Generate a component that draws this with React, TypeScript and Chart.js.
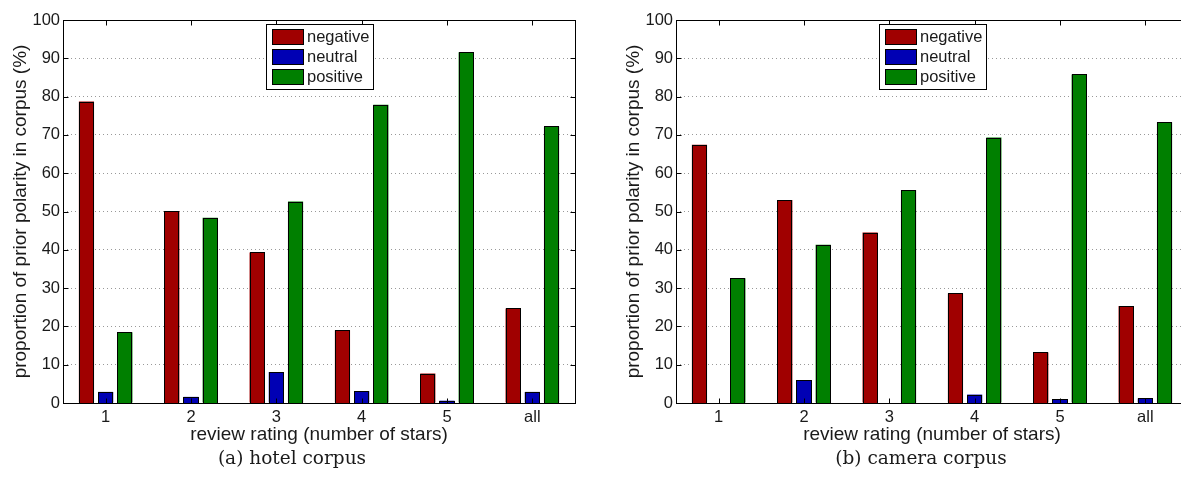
import React, { useEffect, useRef } from 'react';
import { Chart, registerables } from 'chart.js';

Chart.register(...registerables);

const CATEGORIES = ['1', '2', '3', '4', '5', 'all'];
const SERIES_LABELS = ['negative', 'neutral', 'positive'];
const SERIES_COLORS = ['#a00000', '#0000b4', '#007f00'];

const HOTEL_NEGATIVE = [78.7, 50.1, 39.3, 19.0, 7.7, 24.7];
const HOTEL_NEUTRAL = [2.9, 1.6, 8.1, 3.1, 0.6, 2.9];
const HOTEL_POSITIVE = [18.5, 48.4, 52.6, 77.9, 91.6, 72.2];

const CAMERA_NEGATIVE = [67.4, 53.0, 44.5, 28.6, 13.2, 25.3];
const CAMERA_NEUTRAL = [0, 5.9, 0, 2.2, 1.0, 1.2];
const CAMERA_POSITIVE = [32.6, 41.3, 55.6, 69.3, 85.8, 73.3];

const Y_MIN = 0;
const Y_MAX = 100;
const Y_STEP = 10;

const X_TITLE = 'review rating (number of stars)';
const Y_TITLE = 'proportion of prior polarity in corpus (%)';
const CAPTIONS = ['(a) hotel corpus', '(b) camera corpus'];

const SANS = '"Liberation Sans", Arial, Helvetica, sans-serif';
const TEXT_COLOR = '#1a1a1a';

const matlabPlugin = {
  id: 'matlabFrame',
  afterDatasetsDraw(chart: any) {
    const { ctx } = chart;
    ctx.save();
    ctx.strokeStyle = '#000';
    ctx.lineWidth = 1;
    chart.data.datasets.forEach((ds: any, di: number) => {
      const meta = chart.getDatasetMeta(di);
      meta.data.forEach((bar: any) => {
        const p = bar.getProps(['x', 'y', 'base', 'width'], true);
        const l = Math.round(p.x - p.width / 2);
        const r = Math.round(p.x + p.width / 2);
        const t = Math.round(p.y);
        const b = Math.round(p.base);
        ctx.fillStyle = ds.backgroundColor;
        ctx.fillRect(l, t, r - l, b - t);
        ctx.strokeRect(l + 0.5, t + 0.5, r - l - 1, b - t);
      });
    });
    ctx.restore();
  },
  afterDraw(chart: any) {
    const { ctx, chartArea: a, scales } = chart;
    const xs = scales.x;
    const ys = scales.y;
    ctx.save();
    ctx.strokeStyle = '#000';
    ctx.lineWidth = 1;
    const L = Math.round(a.left) + 0.5;
    const R = Math.round(a.right) + 0.5;
    const T = Math.round(a.top) + 0.5;
    const B = Math.round(a.bottom) + 0.5;
    ctx.strokeRect(L, T, R - L, B - T);
    const TL = 5;
    ctx.beginPath();
    ys.ticks.forEach((_t: any, i: number) => {
      const py = Math.round(ys.getPixelForTick(i)) + 0.5;
      ctx.moveTo(L, py);
      ctx.lineTo(L + TL, py);
      ctx.moveTo(R, py);
      ctx.lineTo(R - TL, py);
    });
    xs.ticks.forEach((_t: any, i: number) => {
      const px = Math.round(xs.getPixelForTick(i)) + 0.5;
      ctx.moveTo(px, B);
      ctx.lineTo(px, B - TL);
      ctx.moveTo(px, T);
      ctx.lineTo(px, T + TL);
    });
    ctx.stroke();

    // legend box (MATLAB "North" location)
    const bw = 107;
    const bh = 65;
    const bx = Math.round((a.left + a.right) / 2 - bw / 2);
    const by = Math.round(a.top + 4);
    ctx.fillStyle = '#fff';
    ctx.fillRect(bx, by, bw, bh);
    ctx.strokeRect(bx + 0.5, by + 0.5, bw, bh);
    ctx.font = '16.5px ' + SANS;
    ctx.textBaseline = 'middle';
    ctx.textAlign = 'left';
    chart.data.datasets.forEach((ds: any, i: number) => {
      const ry = by + 5 + i * 20;
      ctx.fillStyle = ds.backgroundColor;
      ctx.fillRect(bx + 6, ry, 31, 15);
      ctx.strokeRect(bx + 6.5, ry + 0.5, 31, 15);
      ctx.fillStyle = TEXT_COLOR;
      ctx.fillText(ds.label, bx + 41, ry + 8.5);
    });
    ctx.restore();
  },
};

function BarPanel({ series }: { series: number[][] }) {
  const ref = useRef<HTMLCanvasElement | null>(null);
  useEffect(() => {
    if (!ref.current) return;
    const chart = new Chart(ref.current, {
      type: 'bar',
      data: {
        labels: CATEGORIES,
        datasets: series.map((vals, i) => ({
          label: SERIES_LABELS[i],
          data: vals,
          backgroundColor: SERIES_COLORS[i],
          borderWidth: 0,
          categoryPercentage: 0.675,
          barPercentage: 0.79,
        })),
      },
      options: {
        animation: false,
        responsive: false,
        devicePixelRatio: 1,
        events: [],
        layout: { padding: { left: 0, right: 25, top: 20, bottom: 31 } },
        plugins: { legend: { display: false }, tooltip: { enabled: false } },
        scales: {
          x: {
            type: 'category',
            offset: true,
            grid: { display: false, drawTicks: false },
            border: { display: false },
            ticks: { font: { family: SANS, size: 16.5 }, color: TEXT_COLOR, padding: 5, maxRotation: 0 },
            title: {
              display: true,
              text: X_TITLE,
              font: { family: SANS, size: 19 },
              color: TEXT_COLOR,
              padding: { top: 0, bottom: 0 },
            },
            afterFit: (s: any) => {
              s.height = 43;
            },
          },
          y: {
            min: Y_MIN,
            max: Y_MAX,
            ticks: { stepSize: Y_STEP, font: { family: SANS, size: 16.5 }, color: TEXT_COLOR, padding: 3 },
            grid: {
              drawTicks: false,
              lineWidth: 1,
              color: (c: any) =>
                c.tick && (c.tick.value === Y_MIN || c.tick.value === Y_MAX) ? 'rgba(0,0,0,0)' : '#999999',
            },
            border: { display: false, dash: [1, 3] },
            title: {
              display: true,
              text: Y_TITLE,
              font: { family: SANS, size: 19 },
              color: TEXT_COLOR,
              padding: { top: 9.5, bottom: 0 },
            },
            afterFit: (s: any) => {
              s.width = 63;
            },
          },
        },
      } as any,
      plugins: [matlabPlugin],
    });
    return () => chart.destroy();
  }, [series]);
  return <canvas ref={ref} width={600} height={477} style={{ display: 'block', width: 600, height: 477 }} />;
}

const HOTEL = [HOTEL_NEGATIVE, HOTEL_NEUTRAL, HOTEL_POSITIVE];
const CAMERA = [CAMERA_NEGATIVE, CAMERA_NEUTRAL, CAMERA_POSITIVE];

export default function App() {
  const captionStyle: React.CSSProperties = {
    position: 'absolute',
    top: 448,
    width: 240,
    textAlign: 'center',
    fontFamily: '"DejaVu Serif", serif',
    fontSize: 18.5,
    lineHeight: '20px',
    color: TEXT_COLOR,
    whiteSpace: 'nowrap',
  };
  return (
    <div
      style={{
        position: 'fixed',
        left: 0,
        top: 0,
        width: 1181,
        height: 477,
        overflow: 'hidden',
        background: '#fff',
      }}
    >
      <div style={{ position: 'absolute', left: 0, top: 0 }}>
        <BarPanel series={HOTEL} />
      </div>
      <div style={{ position: 'absolute', left: 613, top: 0 }}>
        <BarPanel series={CAMERA} />
      </div>
      <div style={{ ...captionStyle, left: 292 - 120 }}>{CAPTIONS[0]}</div>
      <div style={{ ...captionStyle, left: 921 - 120 }}>{CAPTIONS[1]}</div>
    </div>
  );
}
